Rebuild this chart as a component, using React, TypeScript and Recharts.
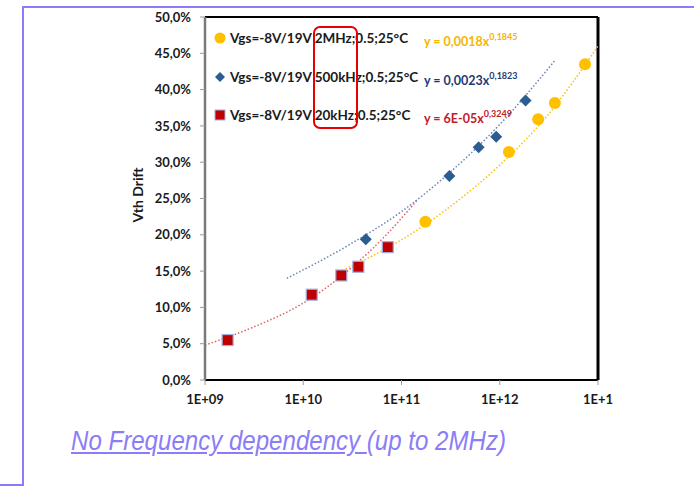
import React from 'react';
import {
  ComposedChart,
  Scatter,
  Line,
  XAxis,
  YAxis,
  ReferenceLine,
} from 'recharts';

// measured points (x = cycles, y = Vth drift in %)
const mhz2 = [
  { x: 1.75e11, y: 21.8 },
  { x: 1.24e12, y: 31.4 },
  { x: 2.46e12, y: 35.9 },
  { x: 3.64e12, y: 38.15 },
  { x: 7.37e12, y: 43.5 },
];

const khz500 = [
  { x: 4.33e10, y: 19.4 },
  { x: 3.07e11, y: 28.1 },
  { x: 6.1e11, y: 32.05 },
  { x: 9.2e11, y: 33.5 },
  { x: 1.83e12, y: 38.5 },
];

const khz20 = [
  { x: 1.7e9, y: 5.5 },
  { x: 1.22e10, y: 11.75 },
  { x: 2.44e10, y: 14.4 },
  { x: 3.64e10, y: 15.6 },
  { x: 7.25e10, y: 18.3 },
];

// power trendlines
const mhz2Trend = [
  { x: 2.7e10, y: 15.3 },
  { x: 1e11, y: 19.3 },
  { x: 3e11, y: 23.7 },
  { x: 1e12, y: 29.6 },
  { x: 3e12, y: 36.3 },
  { x: 1e13, y: 46 },
];

const khz500Trend = [
  { x: 6.8e9, y: 14 },
  { x: 3e10, y: 18.7 },
  { x: 1e11, y: 23.2 },
  { x: 3e11, y: 28.4 },
  { x: 1e12, y: 35.2 },
  { x: 3.64e12, y: 44 },
];

const khz20Trend = [
  { x: 1e9, y: 4.8 },
  { x: 3e9, y: 7.2 },
  { x: 1e10, y: 10.6 },
  { x: 3e10, y: 15.3 },
  { x: 7e10, y: 20 },
  { x: 1.45e11, y: 24.8 },
];

const xTicks = [1e9, 1e10, 1e11, 1e12, 1e13];
const xTickLabels = ['1E+09', '1E+10', '1E+11', '1E+12', '1E+1'];
const yTicks = [0, 5, 10, 15, 20, 25, 30, 35, 40, 45, 50];

const legendRows = [
  { label: 'Vgs=-8V/19V 2MHz;0.5;25°C', coef: 'y = 0,0018x', exp: '0,1845', color: '#F7B500', marker: 'circle' },
  { label: 'Vgs=-8V/19V 500kHz;0.5;25°C', coef: 'y = 0,0023x', exp: '0,1823', color: '#1F3A73', marker: 'diamond' },
  { label: 'Vgs=-8V/19V 20kHz;0.5;25°C', coef: 'y = 6E-05x', exp: '0,3249', color: '#C0202A', marker: 'square' },
];

const ORANGE = '#FFC000';
const BLUE = '#2B5D91';
const RED = '#C00000';
const PURPLE = '#8B7DF7';
const FONT = 'Lato, "Open Sans", sans-serif';

const Circle = (props: any) => <circle cx={props.cx} cy={props.cy} r={6} fill={ORANGE} />;
const Diamond = (props: any) => {
  const { cx, cy } = props;
  return <polygon points={`${cx},${cy - 6} ${cx + 6},${cy} ${cx},${cy + 6} ${cx - 6},${cy}`} fill={BLUE} />;
};
const Square = (props: any) => (
  <rect x={props.cx - 5.5} y={props.cy - 5.5} width={11} height={11} fill={RED} stroke="#9FB0E0" strokeWidth={1.2} />
);

const LegendIcon = ({ kind }: { kind: string }) => (
  <svg width={12} height={12} style={{ position: 'absolute', left: -16, top: 2 }}>
    {kind === 'circle' && <circle cx={6} cy={6} r={5.5} fill={ORANGE} />}
    {kind === 'diamond' && <polygon points="6,1 11,6 6,11 1,6" fill={BLUE} />}
    {kind === 'square' && <rect x={1} y={1} width={10} height={10} fill={RED} stroke="#9FB0E0" strokeWidth={1} />}
  </svg>
);

export default function App() {
  const rowTops = [30, 69, 107];
  return (
    <div style={{ position: 'absolute', left: 0, top: 0, width: 694, height: 486, background: '#fff', overflow: 'hidden' }}>
      {/* slide frame */}
      <div style={{ position: 'absolute', left: 22, top: 6, width: 700, height: 480, borderLeft: `2px solid ${PURPLE}`, borderTop: `2px solid ${PURPLE}` }} />
      <div style={{ position: 'absolute', left: 0, top: 484, width: 24, height: 2, background: PURPLE }} />

      <div style={{ position: 'absolute', left: 0, top: 0 }}>
        <ComposedChart width={694} height={486} margin={{ top: 17, right: 96, bottom: 76, left: 145 }}>
          <XAxis
            type="number"
            dataKey="x"
            scale="log"
            domain={[1e9, 1e13]}
            ticks={xTicks}
            allowDataOverflow
            tickFormatter={(v) => xTickLabels[xTicks.indexOf(v)] ?? ''}
            axisLine={{ stroke: '#000', strokeWidth: 2 }}
            tickLine={{ stroke: '#999' }}
            tickSize={5}
            tickMargin={10}
            height={30}
            tick={{ fill: '#1a1a1a', fontSize: 13, fontWeight: 700, fontFamily: FONT }}
          />
          <YAxis
            type="number"
            dataKey="y"
            domain={[0, 50]}
            ticks={yTicks}
            allowDataOverflow
            width={60}
            tickFormatter={(v) => `${v.toFixed(1).replace('.', ',')}%`}
            axisLine={{ stroke: '#7a7a7a', strokeWidth: 2.5 }}
            tickLine={{ stroke: '#999' }}
            tickSize={5}
            tickMargin={9}
            tick={{ fill: '#1a1a1a', fontSize: 13, fontWeight: 700, fontFamily: FONT }}
          />
          <ReferenceLine y={50} stroke="#000" strokeWidth={2} />
          <ReferenceLine x={1e13} stroke="#000" strokeWidth={3} />

          <Line data={khz20Trend} dataKey="y" type="monotone" stroke="#E0606A" strokeWidth={1.5} strokeDasharray="1.5 2" dot={false} activeDot={false} isAnimationActive={false} />
          <Line data={khz500Trend} dataKey="y" type="monotone" stroke="#6A88B5" strokeWidth={1.5} strokeDasharray="1.5 2" dot={false} activeDot={false} isAnimationActive={false} />
          <Line data={mhz2Trend} dataKey="y" type="monotone" stroke="#FFC000" strokeWidth={1.5} strokeDasharray="1.5 2" dot={false} activeDot={false} isAnimationActive={false} />

          <Scatter data={khz20} shape={Square} isAnimationActive={false} />
          <Scatter data={khz500} shape={Diamond} isAnimationActive={false} />
          <Scatter data={mhz2} shape={Circle} isAnimationActive={false} />
        </ComposedChart>
      </div>

      {/* axis title */}
      <div
        style={{
          position: 'absolute', left: 137, top: 195, transform: 'translate(-50%, -50%) rotate(-90deg)',
          fontFamily: FONT, fontWeight: 700, fontSize: 14, color: '#1a1a1a', whiteSpace: 'nowrap',
        }}
      >
        Vth Drift
      </div>

      {/* legend */}
      {legendRows.map((r, i) => (
        <div key={r.label} style={{ position: 'absolute', left: 230, top: rowTops[i], height: 16, lineHeight: '16px', fontFamily: FONT, fontWeight: 700, fontSize: 13.5, color: '#1a1a1a', whiteSpace: 'nowrap' }}>
          <LegendIcon kind={r.marker} />
          {r.label}
          <span style={{ position: 'absolute', left: 194, top: 0, color: r.color, fontSize: 12.5 }}>
            {r.coef}
            <sup style={{ fontSize: 9, position: 'relative', top: -1 }}>{r.exp}</sup>
          </span>
        </div>
      ))}
      <div style={{ position: 'absolute', left: 313, top: 26, width: 45, height: 103, border: '2.5px solid #E60000', borderRadius: 7, boxSizing: 'border-box' }} />

      {/* caption */}
      <div
        style={{
          position: 'absolute', left: 71, top: 427, fontFamily: '"Liberation Sans", Arial, sans-serif', fontStyle: 'italic',
          fontSize: 28, lineHeight: '28px', color: PURPLE, whiteSpace: 'nowrap', transform: 'scaleX(0.86)', transformOrigin: 'left',
        }}
      >
        <span style={{ textDecoration: 'underline' }}>No Frequency dependency </span>(up to 2MHz)
      </div>
    </div>
  );
}
